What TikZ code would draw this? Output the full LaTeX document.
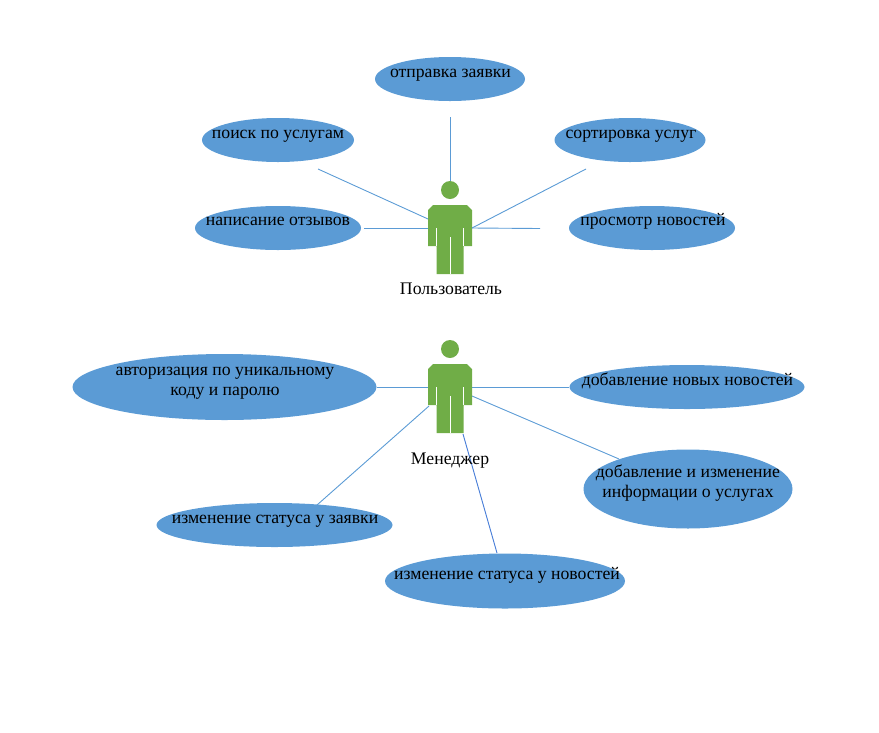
\documentclass[tikz,border=0pt]{standalone}
\usepackage{fontspec}
\setmainfont{Liberation Serif}
\usetikzlibrary{shapes.geometric}
\definecolor{ovalblue}{HTML}{5B9BD5}
\definecolor{mangreen}{HTML}{70AD47}
\definecolor{deepblue}{HTML}{4A7FD8}
\tikzset{
	oval/.style 2 args={ellipse,fill=ovalblue,inner sep=0pt,minimum width=#1pt,minimum height=#2pt},
	txt/.style={font=\fontsize{17.7}{20}\selectfont,align=center,inner sep=0pt,text=black},
	line/.style={txt,anchor=base},
	link/.style={draw=ovalblue,line width=0.9pt},
	man/.pic={
		\fill[mangreen] (0,-15) circle (9);
		\fill[mangreen] (-17,0) -- (17,0) -- (22,5) -- (22,41) -- (13.5,41) -- (13.5,69) -- (-13.5,69) -- (-13.5,41) -- (-22,41) -- (-22,5) -- cycle;
		\draw[white,line width=0.8pt] (-13.5,23) -- (-13.5,41) (13.5,23) -- (13.5,41) (0,32) -- (0,69);
	}
}
\begin{document}
\begin{tikzpicture}[x=1pt,y=-1pt]
	\useasboundingbox (0,0) rectangle (879,732);
	% user part
	\node[oval={150}{44}] (otpravka) at (450,79) {};
	\node[oval={152}{44}] (poisk) at (278,140) {};
	\node[oval={151}{44}] (sortirovka) at (630,140) {};
	\node[oval={166}{44}] (otzyvy) at (278,228) {};
	\node[oval={166}{44}] (prosmotr) at (652,228) {};
	\pic at (450,205) {man};
	\coordinate (userTop) at (450,181);
	\coordinate (userLeftUp) at (428,219);
	\coordinate (userLeft) at (428,228);
	\coordinate (userRight) at (472,228);
	\coordinate (c1) at (450,117);
	\coordinate (c2) at (318,169);
	\coordinate (c3) at (586,169);
	\coordinate (c4) at (364,228);
	\coordinate (c5) at (540,228.5);
	\draw[link] (c1) -- (userTop);
	\draw[link] (c2) -- (userLeftUp);
	\draw[link] (c3) -- (userRight);
	\draw[link] (c4) -- (userLeft);
	\draw[link] (userRight) -- (c5);
	\node[line] at (450.5,77) {отправка заявки};
	\node[line] at (278,138) {поиск по услугам};
	\node[line] at (631,138) {сортировка услуг};
	\node[line] at (278,225) {написание отзывов};
	\node[line] at (653,225) {просмотр новостей};
	\node[line] (userName) at (451,294) {Пользователь};
	% manager part
	\node[oval={304}{66}] (avtorizaciya) at (224.5,387) {};
	\node[oval={235}{44}] (novye) at (687,387) {};
	\node[oval={209}{79}] (uslugi) at (688,489) {};
	\node[oval={236}{44}] (zayavka) at (274.5,525) {};
	\node[oval={240}{55}] (novosti) at (505,581) {};
	\coordinate (mgrLeft) at (428,387);
	\coordinate (mgrRight) at (472,387);
	\coordinate (mgrRightLow) at (472,396);
	\coordinate (mgrArm) at (429,406);
	\coordinate (mgrFoot) at (463,434);
	\coordinate (c6) at (619,459);
	\coordinate (c7) at (317,505);
	\coordinate (c8) at (497,553);
	\draw[link] (avtorizaciya.east) -- (mgrLeft);
	\draw[link] (mgrRight) -- (novye.west);
	\draw[link] (mgrRightLow) -- (c6);
	\draw[link] (mgrArm) -- (c7);
	\draw[link,draw=deepblue] (mgrFoot) -- (c8);
	\pic at (450,364) {man};
	\node[txt] at (225,383) {авторизация по уникальному\\[0pt]коду и паролю};
	\node[line] at (687.5,385) {добавление новых новостей};
	\node[txt] at (688,483) {добавление и изменение\\[0pt]информации о услугах};
	\node[line] at (275,523) {изменение статуса у заявки};
	\node[line] at (507,579) {изменение статуса у новостей};
	\node[line] (mgrName) at (450,464) {Менеджер};
\end{tikzpicture}
\end{document}
